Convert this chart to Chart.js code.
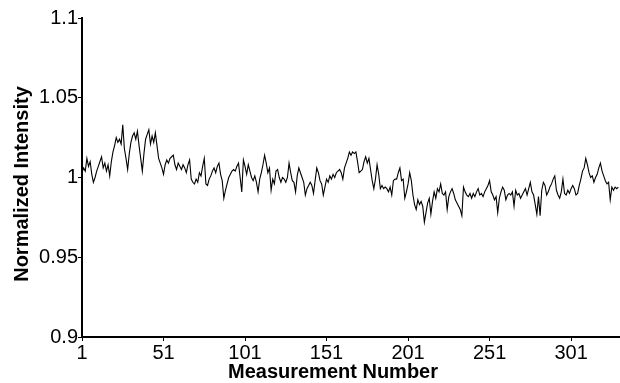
<!DOCTYPE html>
<html>
<head>
<meta charset="utf-8">
<script src="https://cdn.jsdelivr.net/npm/chart.js@4/dist/chart.umd.min.js"></script>
<style>
  html, body { margin:0; padding:0; background:#fff; }
  #wrap { width:620px; height:383px; position:relative; }
</style>
</head>
<body>
<div id="wrap"><canvas id="chart"></canvas></div>
<script>
const intensity = [
  1.003,1.006,1.004,1.012,1.007,1.010,1.002,0.997,1.000,1.004,
  1.007,1.010,1.013,1.006,1.009,1.004,1.008,1.001,1.010,1.016,
  1.020,1.025,1.022,1.024,1.021,1.033,1.018,1.012,1.005,1.015,
  1.022,1.026,1.028,1.024,1.029,1.020,1.012,1.004,1.015,1.024,
  1.027,1.030,1.021,1.026,1.022,1.028,1.020,1.012,1.009,1.006,
  1.002,1.008,1.011,1.009,1.012,1.013,1.014,1.008,1.005,1.009,
  1.007,1.005,1.008,1.006,1.003,1.008,1.011,0.999,0.997,0.996,
  0.999,0.997,1.003,1.001,1.007,1.012,0.996,0.995,0.999,1.001,
  1.004,1.006,1.003,1.007,1.009,1.002,0.998,0.987,0.992,0.996,
  1.000,1.002,1.004,1.005,1.004,1.007,1.009,1.000,0.991,1.011,
  1.007,1.002,1.008,1.004,1.000,0.998,1.001,0.997,0.991,0.999,
  1.003,1.008,1.014,1.009,1.003,1.006,0.992,0.999,0.996,1.004,
  1.005,1.000,0.997,1.000,0.999,0.997,1.000,1.009,1.003,0.998,
  0.997,0.991,1.001,1.006,1.003,1.000,0.997,0.989,0.993,0.995,
  0.997,0.995,0.990,0.998,1.006,1.003,0.998,0.996,0.989,0.994,
  0.999,0.997,1.001,0.999,1.002,1.000,1.003,1.004,1.005,1.003,
  0.999,1.006,1.009,1.012,1.016,1.014,1.016,1.015,1.016,1.010,
  1.003,1.004,1.005,1.010,1.013,1.009,1.012,1.005,0.998,0.993,
  0.999,1.008,1.002,0.993,0.995,0.993,0.994,0.993,0.991,0.994,
  0.989,0.998,0.999,0.999,1.003,1.006,0.998,0.999,0.987,0.991,
  0.996,1.003,0.998,0.989,0.983,0.980,0.986,0.983,0.985,0.982,
  0.972,0.978,0.984,0.987,0.977,0.985,0.991,0.987,0.993,0.991,
  0.996,0.990,0.989,0.991,0.980,0.988,0.991,0.993,0.990,0.986,
  0.984,0.982,0.980,0.976,0.994,0.991,0.989,0.988,0.990,0.987,
  0.990,0.988,0.991,0.993,0.989,0.990,0.988,0.991,0.993,0.995,
  0.998,0.991,0.989,0.986,0.988,0.978,0.987,0.991,0.994,0.992,
  0.986,0.989,0.990,0.989,0.991,0.982,0.992,0.989,0.990,0.987,
  0.989,0.991,0.993,0.989,0.993,0.997,0.991,0.989,0.983,0.977,
  0.988,0.976,0.992,0.997,0.995,0.989,0.991,0.994,0.996,0.999,
  1.001,0.992,0.989,0.987,0.991,0.999,0.990,0.989,0.992,0.990,
  0.993,0.995,0.993,0.989,0.990,0.995,0.999,1.004,1.006,1.012,
  1.008,1.003,1.000,1.001,0.997,1.000,1.002,1.006,1.009,1.004,
  1.001,0.998,0.996,0.997,0.986,0.994,0.992,0.994,0.993,0.994
];
const xTicks = [1, 51, 101, 151, 201, 251, 301];
const yTicks = [0.9, 0.95, 1, 1.05, 1.1];
const xTitle = 'Measurement Number';
const yTitle = 'Normalized Intensity';

const points = intensity.map((v, i) => ({ x: i + 1, y: v }));

const fam = '"Liberation Sans", Arial, Helvetica, sans-serif';
const tickFont = { family:fam, size:20 };

// axis titles drawn by hand so they sit where the original has them
const axisTitles = {
  id:'axisTitles',
  afterDraw(chart) {
    const ctx = chart.ctx;
    ctx.save();
    ctx.fillStyle = '#000';
    ctx.font = 'bold 20px ' + fam;
    ctx.textAlign = 'center';
    ctx.textBaseline = 'middle';
    ctx.fillText(xTitle, 333, 372);
    ctx.translate(22, 184);
    ctx.rotate(-Math.PI / 2);
    ctx.fillText(yTitle, 0, 0);
    ctx.restore();
  }
};

new Chart(document.getElementById('chart').getContext('2d'), {
  type:'line',
  data:{ datasets:[{ data:points, borderColor:'#000', borderWidth:1.1, pointRadius:0, tension:0, fill:false }] },
  options:{
    responsive:true, maintainAspectRatio:false, animation:false,
    layout:{ padding:{ top:18, right:0, left:0, bottom:0 } },
    plugins:{ legend:{ display:false }, tooltip:{ enabled:false } },
    scales:{
      x:{
        type:'linear', min:1, max:331,
        afterBuildTicks: s => { s.ticks = xTicks.map(v => ({ value:v })); },
        afterFit: s => { s.height = 46; },
        ticks:{ color:'#000', font:tickFont, padding:0, maxRotation:0, autoSkip:false, callback: v => String(v) },
        grid:{ display:true, drawOnChartArea:false, drawTicks:true, tickLength:4, color:'#000', lineWidth:1 },
        border:{ display:true, color:'#000', width:2 }
      },
      y:{
        min:0.9, max:1.1,
        afterBuildTicks: s => { s.ticks = yTicks.map(v => ({ value:v })); },
        afterFit: s => { s.width = 82; },
        ticks:{ color:'#000', font:tickFont, padding:0, callback: v => String(v) },
        grid:{ display:true, drawOnChartArea:false, drawTicks:true, tickLength:4, color:'#000', lineWidth:1 },
        border:{ display:true, color:'#000', width:2 }
      }
    }
  },
  plugins:[axisTitles]
});
</script>
</body>
</html>
